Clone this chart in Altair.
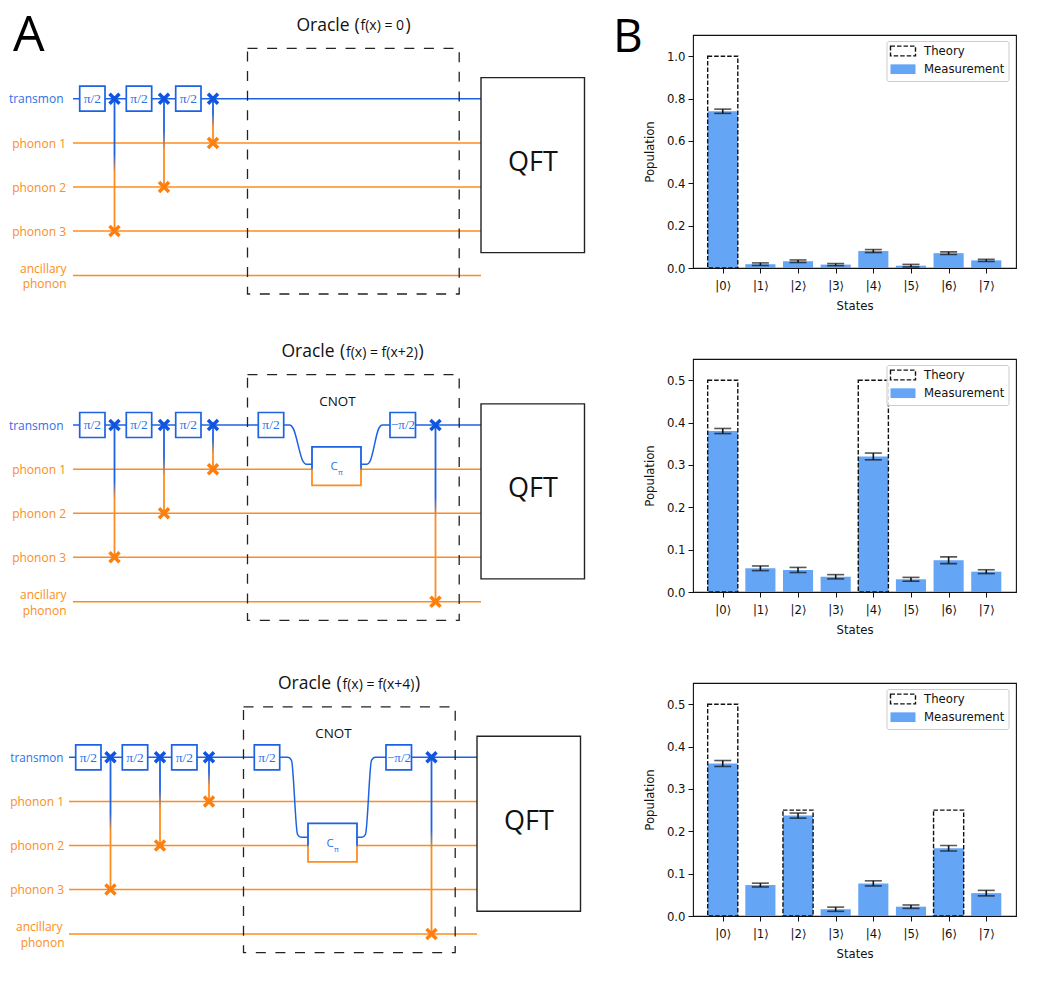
import altair as alt
import pandas as pd

# ---------- bar chart values ----------
STATE_LABELS = ["|0⟩", "|1⟩", "|2⟩", "|3⟩", "|4⟩", "|5⟩", "|6⟩", "|7⟩"]
MEAS_A = [0.74, 0.018, 0.032, 0.016, 0.08, 0.011, 0.07, 0.036]
ERR_A = [0.01, 0.006, 0.006, 0.005, 0.007, 0.006, 0.006, 0.005]
THEORY_A = [1.0, 0, 0, 0, 0, 0, 0, 0]
MEAS_B = [0.38, 0.056, 0.052, 0.036, 0.32, 0.03, 0.075, 0.048]
ERR_B = [0.006, 0.0055, 0.006, 0.005, 0.008, 0.0045, 0.008, 0.0045]
THEORY_B = [0.5, 0, 0, 0, 0.5, 0, 0, 0]
MEAS_C = [0.36, 0.073, 0.237, 0.016, 0.077, 0.022, 0.16, 0.054]
ERR_C = [0.007, 0.0045, 0.006, 0.005, 0.006, 0.004, 0.0065, 0.0065]
THEORY_C = [0.5, 0, 0.25, 0, 0, 0, 0.25, 0]

# ---------- circuit layout, in diagram units ----------
WIRES = [98.7, 143, 187, 231, 275.4]
WIRE_NAMES = ["transmon", "phonon 1", "phonon 2", "phonon 3"]
GATES_X = [(78.7, 104), (125.3, 150.7), (174.7, 200)]
SWAPS = [(113.5, 3), (163, 2), (212, 1)]

BLUE = "#1c62e3"
XBLUE = "#0f55e0"
TBLUE = "#2f6fe6"
ORANGE = "#ff8c1f"
XORANGE = "#ff7f0e"
TORANGE = "#fb8d22"
BAR = "#64a5f5"
UI = "Open Sans"
MPL = "DejaVu Sans"


def fade(a, b):
    return {
        "gradient": "linear", "x1": 0, "y1": 0, "x2": 0, "y2": 1,
        "stops": [{"offset": 0, "color": BLUE}, {"offset": a, "color": BLUE},
                  {"offset": b, "color": ORANGE}, {"offset": 1, "color": ORANGE}],
    }


def circuit(y_dom, x_dom, title_x, paren_x, fx_x, fx, close_x, cnot_wire=None, curves=None, extra=False,
            transmon_right=62.5, transmon_size=12, phonon_right=65):
    sx = alt.Scale(domain=x_dom, nice=False, zero=False)
    sy = alt.Scale(domain=y_dom, nice=False, zero=False)
    X = alt.X("x:Q", scale=sx, axis=None)
    Y = alt.Y("y:Q", scale=sy, axis=None)
    X2 = alt.X2("x2:Q")
    Y2 = alt.Y2("y2:Q")

    def hline(rows, color, w=1.5):
        return alt.Chart(pd.DataFrame(rows, columns=["x", "x2", "y"])).mark_rule(
            color=color, strokeWidth=w).encode(x=X, x2=X2, y=Y)

    def box(rows, **kw):
        return alt.Chart(pd.DataFrame(rows, columns=["x", "x2", "y", "y2"])).mark_rect(**kw).encode(
            x=X, x2=X2, y=Y, y2=Y2)

    def text(rows, **kw):
        return alt.Chart(pd.DataFrame(rows, columns=["x", "y", "t"])).mark_text(**kw).encode(
            x=X, y=Y, text="t:N")

    def cross(rows, color):
        return alt.Chart(pd.DataFrame(rows, columns=["x", "y"])).mark_point(
            shape="M-1,-1L1,1M-1,1L1,-1", size=100, filled=False, stroke=color,
            strokeWidth=3.5, opacity=1).encode(x=X, y=Y)

    layers = []
    # wires
    if extra:
        blue_wire = [(72, 257.3, WIRES[0]), (414.5, 480, WIRES[0])]
    else:
        blue_wire = [(72, 480, WIRES[0])]
    layers.append(hline(blue_wire, BLUE))
    layers.append(hline([(72, 480, w) for w in WIRES[1:]], ORANGE))
    if extra:
        for pts in curves:
            df = pd.DataFrame(pts, columns=["x", "y"])
            layers.append(alt.Chart(df).mark_line(color=BLUE, strokeWidth=1.5, interpolate="monotone").encode(
                x=X, y=Y))
    # connectors
    conn = [(x, WIRES[0], WIRES[t]) for x, t in SWAPS]
    for (x, a, b), grad in zip(conn, [fade(0.42, 0.56), fade(0.36, 0.58), fade(0.33, 0.65)]):
        layers.append(alt.Chart(pd.DataFrame([dict(x=x, y=a, y2=b)])).mark_rect(width=1.8, fill=grad).encode(
            x=X, y=Y, y2=Y2))
    if extra:
        layers.append(alt.Chart(pd.DataFrame([dict(x=434.5, y=WIRES[0], y2=WIRES[4])])).mark_rect(
            width=1.8, fill=fade(0.41, 0.52)).encode(x=X, y=Y, y2=Y2))
    # gates
    gates = [(a, b, 86.2, 111.2) for a, b in GATES_X]
    if extra:
        gates += [(257.3, 282.7, 86.2, 111.2), (389, 414.5, 86.2, 111.2)]
    layers.append(box(gates, fill="white", stroke=BLUE, strokeWidth=1.7))
    pi_rows = [((a + b) / 2, 99, "π/2") for a, b in GATES_X]
    if extra:
        pi_rows.append((270, 99, "π/2"))
    layers.append(text(pi_rows, font="Liberation Serif", fontSize=13.5, color=TBLUE))
    if extra:
        layers.append(text([(402, 99, "−π/2")], font="Liberation Serif", fontSize=13, color=TBLUE))
        layers.append(box([(311, 360, cnot_wire - 22.5, cnot_wire + 16)], fill="white", strokeWidth=1.8,
                          stroke={"gradient": "linear", "x1": 0, "y1": 0, "x2": 0, "y2": 1,
                                  "stops": [{"offset": 0, "color": BLUE}, {"offset": 0.55, "color": BLUE},
                                            {"offset": 0.62, "color": ORANGE}, {"offset": 1, "color": ORANGE}]}))
        layers.append(text([(333, cnot_wire - 2, "C")], font=UI, fontSize=11.5, color=TBLUE))
        layers.append(text([(339.5, cnot_wire + 3.7, "π")], font=UI, fontSize=7.5, color=TBLUE))
        layers.append(text([(336.5, 75.2, "CNOT")], font=UI, fontSize=13.4, color="#111"))
    # swap marks
    blue_x = [(x, WIRES[0]) for x, _ in SWAPS]
    or_x = [(x, WIRES[t]) for x, t in SWAPS]
    if extra:
        blue_x.append((434.5, WIRES[0]))
        or_x.append((434.5, WIRES[4]))
    layers.append(cross(blue_x, XBLUE))
    layers.append(cross(or_x, XORANGE))
    # oracle and QFT
    layers.append(box([(246.5, 458.2, 48.3, 294)], fill="transparent", stroke="#222", strokeWidth=1.3,
                      strokeDash=[10, 9.6]))
    layers.append(box([(480, 583.5, 77.6, 252.6)], fill="white", stroke="#222", strokeWidth=1.4))
    layers.append(text([(532, 163, "QFT")], font=UI, fontSize=27, color="#111"))
    # labels
    layers.append(text([(transmon_right, 99.2, WIRE_NAMES[0])], font=UI, fontSize=transmon_size, align="right",
                       color=TBLUE))
    layers.append(text([(phonon_right, WIRES[i] + 0.7, WIRE_NAMES[i]) for i in (1, 2, 3)] +
                       [(65.5, 268.8, "ancillary"), (phonon_right + 0.5, 284.3, "phonon")],
                       font=UI, fontSize=12, align="right", color=TORANGE))
    # oracle title
    layers.append(text([(title_x, 25.6, "Oracle")], font=UI, fontSize=17.5, align="left", color="#111"))
    layers.append(text([(paren_x, 25.6, "("), (close_x, 25.6, ")")], font=UI, fontSize=17.5, align="left", color="#111"))
    layers.append(text([(fx_x, 26.4, fx)], font=UI, fontSize=14, align="left", color="#111"))
    return layers, X, Y, X2


def finish(layers):
    return alt.layer(*layers).properties(width=593, height=233, view=alt.ViewConfig(stroke=None))


LEFT_CURVE_1 = [(282.7, 98.7), (289, 98.7), (292, 101.7), (302, 135), (305, 138), (311, 138)]
RIGHT_CURVE_1 = [(360, 138), (366, 138), (369, 135), (378, 101.7), (381, 98.7), (389, 98.7)]
LEFT_CURVE_2 = [(282.7, 98.7), (291, 98.7), (294.5, 101.7), (300.5, 175.7), (304, 178.7), (311, 178.7)]
RIGHT_CURVE_2 = [(360, 178.7), (365, 178.7), (368.5, 175.7), (374.5, 101.7), (378, 98.7), (389, 98.7)]

l1, X1, Y1, X21 = circuit([268, 35], [8, 601], 295.5, 353.5, 359.5, "f(x) = 0", 404.5)
l1.append(alt.Chart(pd.DataFrame([dict(x=12, y=36, t="A")])).mark_text(
    font=UI, fontSize=50, align="left", color="#000").encode(x=X1, y=Y1, text="t:N"))
l1.append(alt.Chart(pd.DataFrame([dict(x=612, y=38, t="B")])).mark_text(
    font=UI, fontSize=46, align="left", color="#000").encode(x=X1, y=Y1, text="t:N"))
# keeps the top of the page fixed
l1.append(alt.Chart(pd.DataFrame([dict(x=8, x2=9, y=8)])).mark_rule(opacity=0).encode(x=X1, x2=X21, y=Y1))
panel1 = finish(l1)
l2, *_ = circuit([265.7, 32.7], [8, 601], 280.5, 339, 345, "f(x) = f(x+2)", 417.5,
                 cnot_wire=143, curves=[LEFT_CURVE_1, RIGHT_CURVE_1], extra=True)
panel2 = finish(l2)
l3, *_ = circuit([257.4, 24.4], [12, 605], 281, 339.5, 345.5, "f(x) = f(x+4)", 418,
                 cnot_wire=187.2, curves=[LEFT_CURVE_2, RIGHT_CURVE_2], extra=True,
                 transmon_right=66.5, transmon_size=11.7, phonon_right=67)
panel3 = finish(l3)


def bars(meas, err, theory, ymax, ticks):
    pos = list(range(len(STATE_LABELS)))
    m = pd.DataFrame({"p": pos, "v": meas, "series": "Measurement"})
    t = pd.DataFrame({"p": pos, "v": theory, "series": "Theory"})
    t = t[t.v > 0]
    d = pd.concat([m, t])
    d["a"] = d.p - 0.4
    d["b"] = d.p + 0.4
    d["z"] = 0.0
    e = pd.DataFrame({"p": pos, "lo": [a - b for a, b in zip(meas, err)], "hi": [a + b for a, b in zip(meas, err)]})
    labels = "[" + ",".join("'%s'" % s for s in STATE_LABELS) + "][datum.value]"
    xs = alt.Scale(domain=[-0.79, 7.79], nice=False, zero=False)
    ys = alt.Scale(domain=[0, ymax], nice=False, zero=False)
    xa = alt.Axis(values=pos, labelExpr=labels, title="States", grid=False, domain=False,
                  tickSize=5, tickColor="#111", labelFont=MPL, labelFontSize=11.7, labelColor="#111",
                  labelPadding=7.5, titleFont=MPL, titleFontSize=11.7, titleFontWeight="normal",
                  titleColor="#111", titlePadding=8, labelFlush=False)
    ya = alt.Axis(values=ticks, format=".1f", title="Population", grid=False, domain=False,
                  tickSize=5, tickColor="#111", labelFont=MPL, labelFontSize=11.7, labelColor="#111",
                  labelPadding=3, titleFont=MPL, titleFontSize=11.7, titleFontWeight="normal",
                  titleColor="#111", titlePadding=11)
    legend = alt.Legend(orient="none", legendX=193.5, legendY=6, title=None,
                        fillColor="rgba(255,255,255,0.85)", strokeColor="#ccc", cornerRadius=2, padding=4,
                        symbolType="M-1.2,-0.97H3.8V0.97H-1.2Z", symbolSize=100, symbolStrokeWidth=1.4,
                        labelFont=MPL, labelFontSize=11.7, labelColor="#111", labelOffset=21.5, rowPadding=2.2)
    dom = ["Theory", "Measurement"]
    base = alt.Chart(d).mark_bar(strokeWidth=1.4, opacity=1).encode(
        x=alt.X("a:Q", scale=xs, axis=xa), x2="b:Q", y=alt.Y("v:Q", scale=ys, axis=ya), y2="z:Q",
        fill=alt.Fill("series:N", scale=alt.Scale(domain=dom, range=["transparent", BAR]), legend=legend),
        stroke=alt.Stroke("series:N", scale=alt.Scale(domain=dom, range=["#111", "transparent"]), legend=legend),
        strokeDash=alt.StrokeDash("series:N", scale=alt.Scale(domain=dom, range=[[4.5, 2], [1, 0]]), legend=legend),
    )
    xe = alt.X("p:Q", scale=xs, axis=xa)
    rule = alt.Chart(e).mark_rule(color="#111", strokeWidth=1.6).encode(
        x=xe, y=alt.Y("lo:Q", scale=ys, axis=ya), y2="hi:Q")
    cap1 = alt.Chart(e).mark_tick(color="#111", size=17, thickness=1.6, orient="horizontal").encode(
        x=xe, y=alt.Y("lo:Q", scale=ys, axis=ya))
    cap2 = alt.Chart(e).mark_tick(color="#111", size=17, thickness=1.6, orient="horizontal").encode(
        x=xe, y=alt.Y("hi:Q", scale=ys, axis=ya))
    return alt.layer(base, rule, cap1, cap2).properties(
        width=323, height=233, view=alt.ViewConfig(stroke="#111", strokeWidth=1.1))


b1 = bars(MEAS_A, ERR_A, THEORY_A, 1.1, [0, 0.2, 0.4, 0.6, 0.8, 1.0])
b2 = bars(MEAS_B, ERR_B, THEORY_B, 0.55, [0, 0.1, 0.2, 0.3, 0.4, 0.5])
b3 = bars(MEAS_C, ERR_C, THEORY_C, 0.55, [0, 0.1, 0.2, 0.3, 0.4, 0.5])

chart = alt.concat(panel1, b1, panel2, b2, panel3, b3, columns=2, spacing=91, bounds="flush").properties(
    padding=0, background="white").resolve_scale(
    fill="independent", stroke="independent", strokeDash="independent").resolve_legend(
    fill="independent", stroke="independent", strokeDash="independent")
chart.save("out.html", embed_options={"renderer": "svg", "actions": False})
